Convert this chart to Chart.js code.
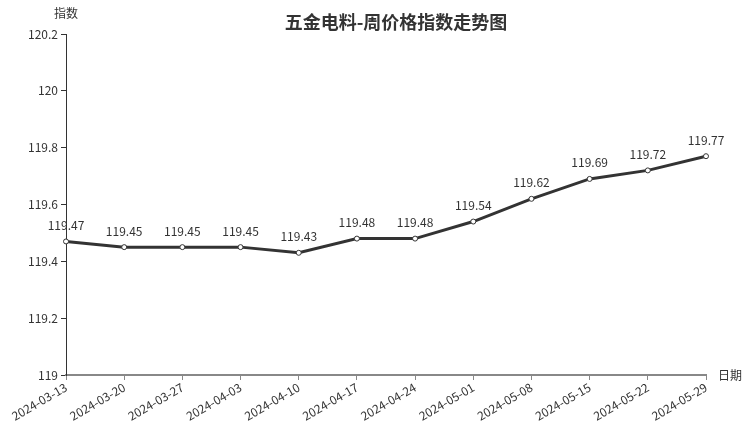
<!DOCTYPE html>
<html>
<head>
<meta charset="utf-8">
<script src="https://cdn.jsdelivr.net/npm/chart.js@4.4.1/dist/chart.umd.min.js"></script>
<style>
  html, body { margin: 0; padding: 0; background: #fff; }
  #wrap { width: 752px; height: 427px; position: relative; }
</style>
</head>
<body>
<div id="wrap"><canvas id="c"></canvas></div>
<script>
const dates = ['2024-03-13', '2024-03-20', '2024-03-27', '2024-04-03', '2024-04-10', '2024-04-17',
               '2024-04-24', '2024-05-01', '2024-05-08', '2024-05-15', '2024-05-22', '2024-05-29'];
const indexValues = [119.47, 119.45, 119.45, 119.45, 119.43, 119.48, 119.48, 119.54, 119.62, 119.69, 119.72, 119.77];
const yTicks = [119, 119.2, 119.4, 119.6, 119.8, 120, 120.2];

const FONT = '"Noto Sans CJK SC", "Noto Sans", sans-serif';
Chart.defaults.font.family = FONT;
Chart.defaults.color = '#333';

// value labels, axis names and title
const extras = {
    id: 'extras',
    afterDatasetsDraw(chart) {
        const ctx = chart.ctx;
        const meta = chart.getDatasetMeta(0);
        ctx.save();
        ctx.font = '12px ' + FONT;
        ctx.fillStyle = '#333';
        ctx.textAlign = 'center';
        ctx.textBaseline = 'bottom';
        meta.data.forEach((pt, i) => {
            ctx.fillText(String(indexValues[i]), pt.x, pt.y - 10);
        });
        const area = chart.chartArea;
        ctx.textAlign = 'center';
        ctx.textBaseline = 'middle';
        ctx.fillText('指数', area.left, 13);
        ctx.textAlign = 'left';
        ctx.fillText('日期', area.right + 12, 375);
        ctx.font = 'bold 18px ' + FONT;
        ctx.textAlign = 'center';
        ctx.fillText('五金电料-周价格指数走势图', 396, 22);
        ctx.restore();
    }
};

new Chart(document.getElementById('c'), {
    type: 'line',
    data: {
        labels: dates,
        datasets: [{
            data: indexValues,
            borderColor: '#333',
            borderWidth: 3,
            pointRadius: 2.5,
            pointBackgroundColor: '#fff',
            pointBorderColor: '#333',
            pointBorderWidth: 1,
            tension: 0
        }]
    },
    options: {
        responsive: true,
        maintainAspectRatio: false,
        animation: false,
        layout: { padding: { top: 34, right: 46, left: 0, bottom: 0 } },
        plugins: { legend: { display: false }, tooltip: { enabled: false } },
        scales: {
            x: {
                offset: false,
                grid: { drawOnChartArea: false, drawTicks: true, tickLength: 5, color: '#888' },
                border: { display: true, color: '#888', width: 2 },
                ticks: { maxRotation: 30, minRotation: 30, autoSkip: false, font: { size: 12 }, color: '#333', padding: 0 },
                afterFit(scale) { scale.height = 52; }
            },
            y: {
                min: 119,
                max: 120.2,
                grid: { drawOnChartArea: false, drawTicks: true, tickLength: 5, color: '#333' },
                border: { display: true, color: '#333', width: 1 },
                afterBuildTicks(scale) { scale.ticks = yTicks.map(v => ({ value: v })); },
                ticks: {
                    font: { size: 12 }, color: '#333', padding: 3,
                    callback: (v) => String(Number(v.toFixed(1)))
                },
                afterFit(scale) { scale.width = 66; }
            }
        }
    },
    plugins: [extras]
});
</script>
</body>
</html>
